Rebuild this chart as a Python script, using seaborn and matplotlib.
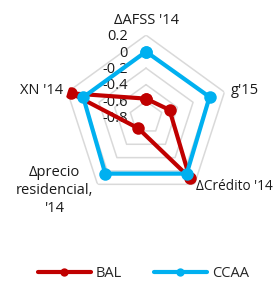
import numpy as np
import pandas as pd
import seaborn as sns
import matplotlib.pyplot as plt
from matplotlib.lines import Line2D

categories = ["ΔAFSS '14", "g'15", "ΔCrédito '14", "Δprecio\nresidencial,\n'14", "XN '14"]
bal_values = [-0.57, -0.50, 0.10, -0.64, 0.15]
ccaa_values = [0.00, 0.01, 0.04, 0.04, 0.00]
series_names = ['BAL', 'CCAA']
ring_ticks = [0.2, 0.0, -0.2, -0.4, -0.6, -0.8]
ring_labels = ['0.2', '0', '-0.2', '-0.4', '-0.6', '-0.8']

palette = {'BAL': '#C00000', 'CCAA': '#00B0F0'}

sns.set_theme(style='white')
plt.rcParams['font.family'] = ['Open Sans', 'DejaVu Sans']

n = len(categories)
theta = [2 * np.pi * i / n for i in range(n)]
rows = []
for name, vals in zip(series_names, [bal_values, ccaa_values]):
    for t, v in zip(theta + [theta[0]], vals + [vals[0]]):
        rows.append({'theta': t, 'value': v, 'series': name})
df = pd.DataFrame(rows)

fig = plt.figure(figsize=(2.76, 2.81), dpi=100)
ax = fig.add_axes([0.230, 0.288, 0.598, 0.587], projection='polar')
ax.set_theta_offset(np.pi / 2)
ax.set_theta_direction(-1)

# pentagon grid
for r in ring_ticks[:-1]:
    ax.plot(theta + [theta[0]], [r] * (n + 1), color='#D9D9D9', lw=1.1, zorder=1)

sns.lineplot(data=df, x='theta', y='value', hue='series', hue_order=series_names,
             palette=palette, sort=False, estimator=None, marker='o', markersize=9,
             markeredgewidth=0, lw=3, legend=False, ax=ax, zorder=3)

ax.set_ylim(-0.8, 0.2)
ax.grid(False)
ax.spines['polar'].set_visible(False)
ax.set_xticks([])
ax.set_yticks([])
ax.set_xlabel('')
ax.set_ylabel('')

for r, lab in zip(ring_ticks, ring_labels):
    ax.annotate(lab, xy=(0, r), xytext=(-13, -1), textcoords='offset points',
                ha='right', va='center', fontsize=10.5, color='#1a1a1a', zorder=2)

label_pos = [(0.38, 'center', 10.5), (0.28, 'left', 10.5), (0.24, 'left', 9.8),
             (0.29, 'right', 10.5), (0.26, 'right', 10.5)]
for t, lab, (r, ha, fs) in zip(theta, categories, label_pos):
    ax.text(t, r, lab, ha=ha, va='center', fontsize=fs, color='#1a1a1a',
            multialignment='center', linespacing=1.25, clip_on=False)

handles = [Line2D([], [], color=palette[s], lw=3, marker='o', markersize=6, markeredgewidth=0)
           for s in series_names]
fig.legend(handles, series_names, loc='center', bbox_to_anchor=(0.52, 0.025), ncol=2,
           frameon=False, fontsize=10.5, handlelength=3.6, handletextpad=0.35,
           columnspacing=2.2, borderpad=0)

fig.savefig('out.png', dpi=100)
